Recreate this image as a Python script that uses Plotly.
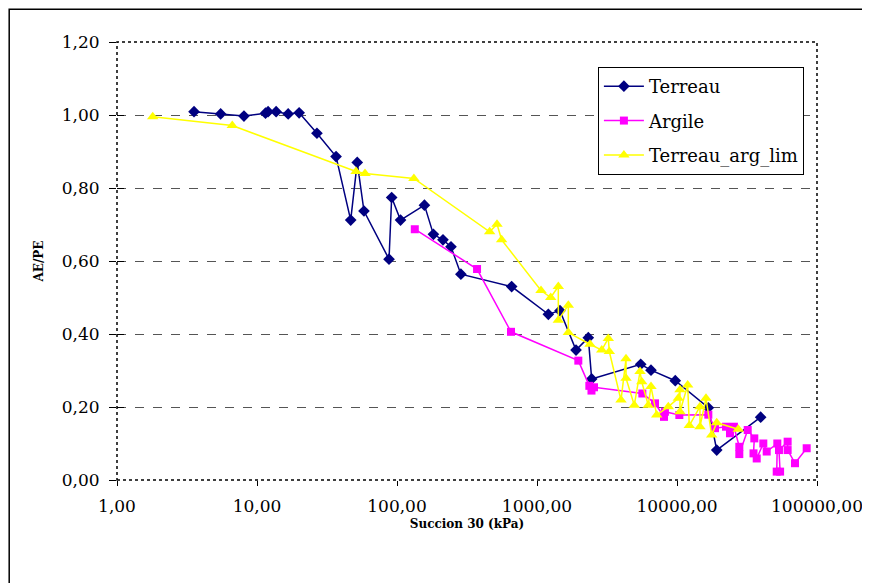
import plotly.graph_objects as go

# Terreau
terreau_x = [3.55, 5.5, 8.07, 11.5, 12.0, 13.7, 16.7, 20.0, 26.8, 36.7, 46.7, 52.0,
             58.1, 87.7, 91.6, 106, 157, 182, 213, 243, 286, 659, 1205, 1459,
             1900, 2325, 2457, 5505, 6520, 9720, 16740, 19220, 39600]
terreau_y = [1.009, 1.003, 0.997, 1.005, 1.009, 1.009, 1.003, 1.006, 0.950, 0.886, 0.712, 0.870,
             0.737, 0.605, 0.774, 0.712, 0.753, 0.673, 0.658, 0.639, 0.564, 0.530, 0.454, 0.464,
             0.356, 0.390, 0.277, 0.317, 0.301, 0.272, 0.198, 0.082, 0.172]

# Argile
argile_x = [134, 373, 652, 1973, 2365, 2450, 2555, 5655, 6966, 8075, 8200, 10390,
            16740, 18680, 22390, 23900, 25500, 27870, 27870, 32000, 35660, 35200, 37100,
            41350, 43730, 52070, 51550, 54500, 53500, 61700, 61700, 69650, 84400]
argile_y = [0.687, 0.578, 0.406, 0.327, 0.258, 0.245, 0.254, 0.237, 0.210, 0.173, 0.187, 0.178,
            0.179, 0.142, 0.146, 0.128, 0.146, 0.091, 0.071, 0.137, 0.114, 0.073, 0.059,
            0.100, 0.078, 0.100, 0.023, 0.023, 0.082, 0.105, 0.082, 0.046, 0.087]

# Terreau_arg_lim
lim_x = [1.80, 6.66, 51.0, 59.1, 132, 459, 518, 559, 1068, 1253, 1420, 1420,
         1674, 1674, 2391, 2900, 3231, 3284, 3981, 4323, 4323, 4955, 5445, 5600,
         6237, 6520, 7160, 8670, 10210, 10500, 10500, 11920, 12240, 14590, 14590,
         16110, 17690, 19220, 27400]
lim_y = [0.995, 0.971, 0.845, 0.840, 0.826, 0.680, 0.701, 0.658, 0.519, 0.500, 0.530, 0.438,
         0.479, 0.404, 0.372, 0.356, 0.388, 0.352, 0.219, 0.332, 0.279, 0.205, 0.297, 0.269,
         0.205, 0.256, 0.178, 0.201, 0.224, 0.247, 0.187, 0.260, 0.149, 0.201, 0.146,
         0.224, 0.123, 0.157, 0.139]

x_ticks = [1, 10, 100, 1000, 10000, 100000]
x_labels = ["1,00", "10,00", "100,00", "1000,00", "10000,00", "100000,00"]
y_ticks = [0, 0.2, 0.4, 0.6, 0.8, 1.0, 1.2]
y_labels = ["0,00", "0,20", "0,40", "0,60", "0,80", "1,00", "1,20"]

serif = 'DejaVu Serif'

fig = go.Figure()

fig.add_trace(go.Scatter(
    x=terreau_x, y=terreau_y, mode='lines+markers', name='Terreau', legendgroup='t',
    line=dict(color='#000080', width=1.5),
    marker=dict(symbol='diamond', size=9, color='#000080')
))
fig.add_trace(go.Scatter(
    x=argile_x, y=argile_y, mode='lines+markers', name='Argile', legendgroup='a',
    line=dict(color='#FF00FF', width=1.5),
    marker=dict(symbol='square', size=8, color='#FF00FF')
))
fig.add_trace(go.Scatter(
    x=lim_x, y=lim_y, mode='lines+markers', name='Terreau_arg_lim', legendgroup='l',
    line=dict(color='#FFFF00', width=1.5),
    marker=dict(symbol='triangle-up', size=10, color='#FFFF00')
))

# the page body adds an 8px offset, margins compensate for it
fig.update_layout(
    width=870, height=583,
    paper_bgcolor='white', plot_bgcolor='white',
    margin=dict(l=109, r=61, t=34, b=111),
    font=dict(family=serif, color='black'),
    showlegend=True,
    legend=dict(
        x=0.687, y=0.943, xanchor='left', yanchor='top',
        bordercolor='black', borderwidth=1, bgcolor='white',
        font=dict(family=serif, size=18),
        traceorder='grouped', tracegroupgap=8, itemwidth=40
    ),
    xaxis=dict(
        type='log', range=[0, 5],
        tickvals=x_ticks, ticktext=x_labels,
        tickfont=dict(family=serif, size=17),
        ticks='outside', ticklen=5, tickcolor='black', ticklabelstandoff=6,
        showgrid=False, zeroline=False, showline=False,
        title=dict(text='<b>Succion 30 (kPa)</b>', font=dict(family=serif, size=12), standoff=4)
    ),
    yaxis=dict(
        range=[0, 1.2],
        tickvals=y_ticks, ticktext=y_labels,
        tickfont=dict(family=serif, size=17),
        ticks='outside', ticklen=7, tickcolor='black', ticklabelstandoff=6,
        showgrid=True, gridcolor='#555555', griddash='dash', gridwidth=1,
        zeroline=False, showline=False,
        title=dict(text='<b>AE/PE</b>', font=dict(family=serif, size=12), standoff=15)
    ),
    # second y axis only to draw the inner half of the crossing ticks
    yaxis2=dict(
        overlaying='y', side='left', range=[0, 1.2],
        tickvals=y_ticks, showticklabels=False,
        ticks='inside', ticklen=7, tickcolor='black',
        showgrid=False, zeroline=False, showline=False
    ),
)

fig.add_trace(go.Scatter(x=[1], y=[None], yaxis='y2', showlegend=False, hoverinfo='skip'))

# plot area border (dotted) and outer chart border
fig.add_shape(type='rect', xref='paper', yref='paper', x0=0, y0=0, x1=1, y1=1,
              line=dict(color='black', width=1.5, dash='dot'))
fig.add_shape(type='rect', xref='paper', yref='paper', x0=-0.154, y0=-0.26, x1=1.0714, y1=1.075,
              line=dict(color='black', width=1.5))

fig.write_html("out.html")
